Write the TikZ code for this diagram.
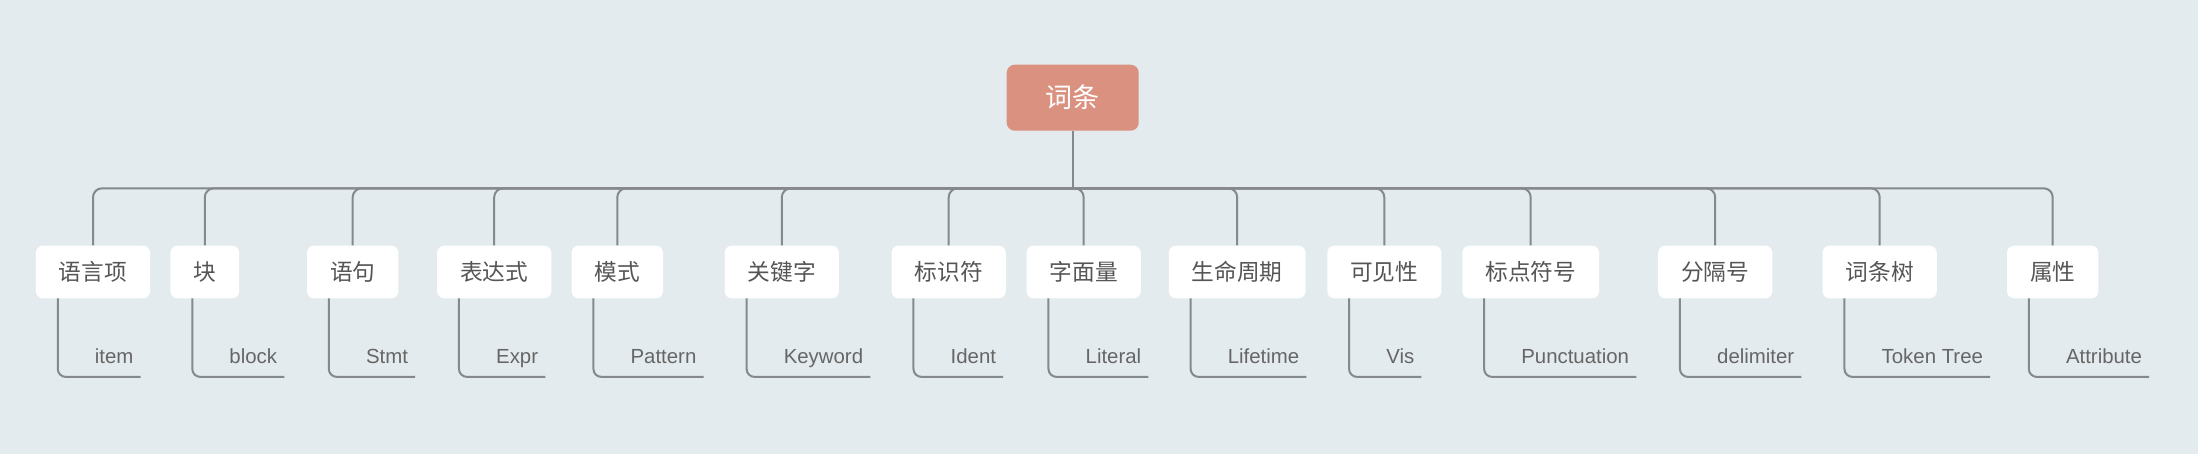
\documentclass[tikz,border=0pt]{standalone}
\usepackage{fontspec}
\setmainfont{Liberation Sans}
\newfontfamily\cjk{Noto Sans CJK SC}
\definecolor{bgc}{HTML}{E3EBEE}
\definecolor{rootc}{HTML}{DB917F}
\definecolor{linec}{HTML}{85888C}
\definecolor{boxtext}{HTML}{555555}
\definecolor{labtext}{HTML}{666666}
\begin{document}
\begin{tikzpicture}[x=1pt,y=-1pt,
  rootbox/.style={fill=rootc, rounded corners=8pt, minimum width=132pt, minimum height=66pt,
    inner sep=0pt, text=white, font=\cjk\fontsize{27}{30}\selectfont},
  kidbox/.style={fill=white, rounded corners=7pt, minimum height=52.6pt, inner xsep=23pt,
    inner ysep=0pt, text=boxtext, font=\cjk\fontsize{22.7}{26}\selectfont},
  lab/.style={inner sep=0pt, anchor=base west, text=labtext, font=\fontsize{20.4}{24}\selectfont},
  conn/.style={draw=linec, line width=2pt, rounded corners=9pt},
  subconn/.style={draw=linec, line width=2pt, rounded corners=8pt}]
\useasboundingbox[fill=bgc] (0,0) rectangle (2198,454);

\node[rootbox] (root) at (1072.7,97.7) {词条};
\coordinate (hub) at (1072.7,188.3);

\foreach \n/\x/\t in {1/93/语言项, 2/204.8/块, 3/352.7/语句, 4/494.2/表达式, 5/617.3/模式,
  6/781.8/关键字, 7/948.7/标识符, 8/1083.7/字面量, 9/1237.2/生命周期, 10/1384.3/可见性,
  11/1530.7/标点符号, 12/1715.2/分隔号, 13/1879.7/词条树, 14/2052.7/属性}{
  \node[kidbox] (b\n) at (\x,272) {\t};
}

\foreach \n/\t in {1/item, 2/block, 3/Stmt, 4/Expr, 5/Pattern, 6/Keyword, 7/Ident,
  8/Literal, 9/Lifetime, 10/Vis, 11/Punctuation, 12/delimiter, 13/Token Tree, 14/Attribute}{
  \node[lab] (l\n) at ([xshift=59pt,yshift=-65.2pt]b\n.south west) {\t};
}

\draw[draw=linec, line width=2pt] (root.south) -- (hub);
\foreach \n in {1,...,14}{
  \draw[conn] (hub) -| (b\n.north);
  \draw[subconn] ([xshift=22pt]b\n.south west) |- ([xshift=7pt,yshift=-13.2pt]l\n.base east);
}
\end{tikzpicture}
\end{document}
